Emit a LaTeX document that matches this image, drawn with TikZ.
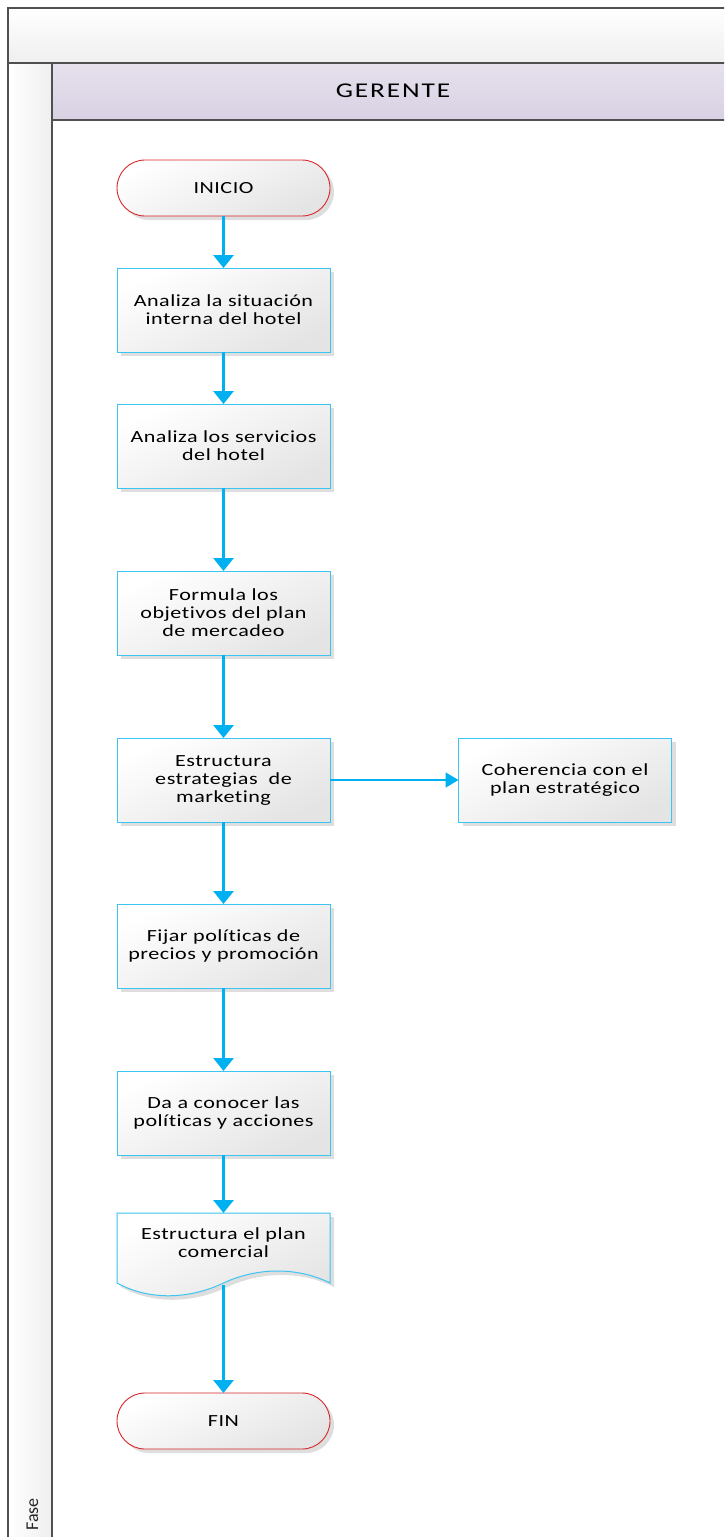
\documentclass[tikz,border=0pt]{standalone}
\usepackage{fontspec}
\setmainfont{Carlito}[FakeStretch=1.3,LetterSpace=3,Ligatures=NoCommon]
\newfontfamily\hdrfont{Carlito}[FakeStretch=1.3,LetterSpace=9,Ligatures=NoCommon]
\newfontfamily\fasefont{Carlito}[Ligatures=NoCommon]
\usetikzlibrary{arrows.meta,shadows}
\definecolor{arrowc}{HTML}{00B0F0}
\definecolor{boxline}{HTML}{3CC4F2}
\definecolor{termline}{HTML}{D9262B}
\definecolor{frameline}{HTML}{505050}
\definecolor{lanehi}{HTML}{E6E1ED}
\definecolor{lanelo}{HTML}{D8D1E3}
\definecolor{boxlo}{HTML}{E4E4E4}
\definecolor{hdrlo}{HTML}{EFEFEF}
\tikzset{
  boxfill/.style={top color=white, bottom color=boxlo, shading angle=25},
  shadowed/.style={drop shadow={shadow xshift=4pt, shadow yshift=-4pt, fill=black, opacity=0.13}},
  boxtext/.style={font=\fontsize{17}{18}\selectfont, align=center},
  procbox/.style={draw=boxline, line width=1pt, boxfill, shadowed, boxtext,
    minimum width=213pt, minimum height=84pt, inner sep=0pt, outer sep=0pt},
  termbox/.style={draw=termline, line width=0.9pt, boxfill, shadowed, boxtext,
    rounded corners=28pt, minimum width=213pt, minimum height=56pt, inner sep=0pt, outer sep=0pt},
  flow/.style={draw=arrowc, line width=3pt, -{Triangle[length=13pt,width=20pt]}},
  sideflow/.style={draw=arrowc, line width=1.8pt, -{Triangle[length=13pt,width=15pt]}},
  frame/.style={draw=frameline, line width=1.6pt}
}
\begin{document}
\begin{tikzpicture}[x=1pt,y=-1pt]
\useasboundingbox (0,0) rectangle (724,1537);
\clip (0,0) rectangle (724,1537);
% swimlane frame
\path[top color=white, bottom color=hdrlo] (8,8) rectangle (740,63);
\path[left color=white, right color=hdrlo] (8,63) rectangle (52,1560);
\path[top color=lanehi, bottom color=lanelo] (52,63) rectangle (740,120);
\draw[frame] (740,8) -- (8,8) -- (8,1560);
\draw[frame] (8,63) -- (740,63);
\draw[frame] (52,63) -- (52,1560);
\draw[frame] (52,120) -- (740,120);
\node[font=\hdrfont\fontsize{21}{21}\selectfont] (lane) at (393,91) {GERENTE};
\node[rotate=90, anchor=base west, font=\fasefont\fontsize{18}{18}\selectfont, text=black!85] (fase) at (38,1534) {Fase};
% nodes
\node[termbox] (inicio) at (223.5,188) {INICIO};
\node[procbox] (b1) at (223.5,310) {Analiza la situación\\interna del hotel};
\node[procbox] (b2) at (223.5,446) {Analiza los servicios\\del hotel};
\node[procbox] (b3) at (223.5,613) {Formula los\\objetivos del plan\\de mercadeo};
\node[procbox] (b4) at (223.5,780) {Estructura\\estrategias~ de\\marketing};
\node[procbox] (side) at (565,780) {Coherencia con el\\plan estratégico};
\node[procbox] (b5) at (223.5,946) {Fijar políticas de\\precios y promoción};
\node[procbox] (b6) at (223.5,1113) {Da a conocer las\\políticas y acciones};
% document shape
\path[draw=boxline, line width=1pt, boxfill, shadowed]
  (117,1213) -- (330,1213) -- (330,1283)
  .. controls (300,1268) and (260,1266) .. (223.5,1283)
  .. controls (190,1299) and (150,1301) .. (117,1283) -- cycle;
\node[boxtext] (doc) at (223.5,1243) {Estructura el plan\\comercial};
\coordinate (docb) at (223.5,1285);
\coordinate (doct) at (223.5,1213);
\node[termbox] (fin) at (223.5,1421) {FIN};
% connectors
\draw[flow] (inicio) -- (b1);
\draw[flow] (b1) -- (b2);
\draw[flow] (b2) -- (b3);
\draw[flow] (b3) -- (b4);
\draw[sideflow] (b4) -- (side);
\draw[flow] (b4) -- (b5);
\draw[flow] (b5) -- (b6);
\draw[flow] (b6) -- (doct);
\draw[flow] (docb) -- (fin);
\end{tikzpicture}
\end{document}
